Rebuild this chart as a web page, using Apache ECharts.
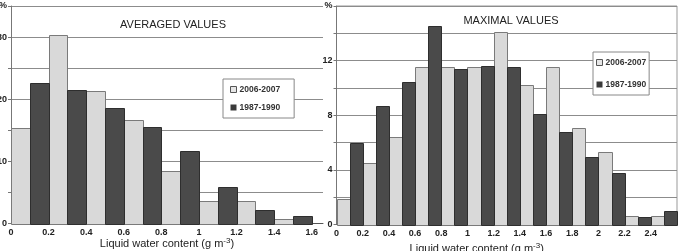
<!DOCTYPE html>
<html>
<head>
<meta charset="utf-8">
<script src="https://cdn.jsdelivr.net/npm/echarts@6/dist/echarts.min.js"></script>
<style>
  html, body { margin: 0; padding: 0; background: #fff; }
  #chart { width: 683px; height: 251px; }
</style>
</head>
<body>
<div id="chart"></div>
<script>
  // bin width of the histograms (g m-3)
  var binWidth = 0.1;

  // averaged values, 2006-2007 (lower edge of each bin, percent)
  var avgNewStart = [0, 0.2, 0.4, 0.6, 0.8, 1.0, 1.2, 1.4];
  var avgNewPct = [15.4, 30.3, 21.3, 16.7, 8.4, 3.7, 3.7, 0.7];
  // averaged values, 1987-1990
  var avgOldStart = [0.1, 0.3, 0.5, 0.7, 0.9, 1.1, 1.3, 1.5];
  var avgOldPct = [22.6, 21.5, 18.6, 15.6, 11.6, 5.8, 2.2, 1.2];

  // maximal values, 2006-2007
  var maxNewStart = [0, 0.2, 0.4, 0.6, 0.8, 1.0, 1.2, 1.4, 1.6, 1.8, 2.0, 2.2, 2.4];
  var maxNewPct = [1.9, 4.5, 6.4, 11.55, 11.55, 11.55, 14.1, 10.25, 11.5, 7.05, 5.3, 0.65, 0.65];
  // maximal values, 1987-1990
  var maxOldStart = [0.1, 0.3, 0.5, 0.7, 0.9, 1.1, 1.3, 1.5, 1.7, 1.9, 2.1, 2.3, 2.5];
  var maxOldPct = [6.0, 8.7, 10.4, 14.5, 11.4, 11.6, 11.5, 8.1, 6.8, 4.95, 3.8, 0.55, 1.0];

  var seriesNames = ['2006-2007', '1987-1990'];
  var xTicks = [0, 0.2, 0.4, 0.6, 0.8, 1, 1.2, 1.4, 1.6, 1.8, 2, 2.2, 2.4];

  var lightStyle = { color: '#d9d9d9', borderColor: '#7a7a7a', borderWidth: 1 };
  var darkStyle = { color: '#4a4a4a', borderColor: '#2e2e2e', borderWidth: 1 };

  function zip(starts, values) {
    return starts.map(function (s, i) { return [s, values[i]]; });
  }

  // one rectangle per bin, from the lower edge to lower edge + binWidth
  function binRenderer(st) {
    return function (params, api) {
      var start = api.value(0);
      var top = api.coord([start, api.value(1)]);
      var base = api.coord([start + binWidth, 0]);
      var x0 = Math.round(top[0]) + 0.5, x1 = Math.round(base[0]) + 0.5;
      var y0 = Math.round(top[1]) + 0.5, y1 = Math.round(base[1]) + 0.5;
      return {
        type: 'rect',
        shape: { x: x0, y: y0, width: x1 - x0, height: y1 - y0 },
        style: { fill: st.color, stroke: st.borderColor, lineWidth: 1 }
      };
    };
  }

  function histSeries(name, idx, starts, values, st) {
    return {
      type: 'custom',
      name: name,
      xAxisIndex: idx,
      yAxisIndex: idx,
      renderItem: binRenderer(st),
      itemStyle: st,
      encode: { x: 0, y: 1 },
      data: zip(starts, values)
    };
  }

  var tickFont = { fontFamily: 'Liberation Sans', fontSize: 9, fontWeight: 'bold', color: '#222' };
  var nameRich = {
    a: { fontFamily: 'Liberation Sans', fontSize: 11, color: '#222' },
    sup: { fontFamily: 'Liberation Sans', fontSize: 8, color: '#222', padding: [0, 0, 7, 0] }
  };
  var axisName = '{a|Liquid water content (g m}{sup|-3}{a|)}';

  function xAxisOf(idx, max, nameGap, namePad) {
    return {
      type: 'value',
      gridIndex: idx,
      min: 0,
      max: max,
      interval: 0.2,
      axisLine: { lineStyle: { color: '#555', width: 1 } },
      axisTick: { show: false },
      splitLine: { show: false },
      axisLabel: Object.assign({
        margin: 5,
        showMaxLabel: false,
        formatter: function (v) {
          for (var i = 0; i < xTicks.length; i++) {
            if (Math.abs(v - xTicks[i]) < 1e-6) return String(xTicks[i]);
          }
          return '';
        }
      }, tickFont),
      name: axisName,
      nameLocation: 'middle',
      nameGap: nameGap,
      nameMoveOverlap: false,
      nameTextStyle: { rich: nameRich, padding: namePad }
    };
  }

  function yAxisOf(idx, max, interval, labelStep) {
    return {
      type: 'value',
      gridIndex: idx,
      min: 0,
      max: max,
      interval: interval,
      axisLine: { show: true, lineStyle: { color: '#777' } },
      axisTick: { show: true, length: 3, lineStyle: { color: '#777' } },
      splitLine: { lineStyle: { color: '#8c8c8c', width: 1 } },
      axisLabel: Object.assign({
        margin: 4,
        formatter: function (v) {
          if (v === max) return '%';
          return v % labelStep === 0 ? String(v) : '';
        }
      }, tickFont)
    };
  }

  function legendAt(left, top, padding, gap) {
    return {
      orient: 'vertical',
      left: left,
      top: top,
      padding: padding,
      itemGap: gap,
      itemWidth: 6,
      itemHeight: 6,
      backgroundColor: '#fff',
      borderColor: '#888',
      borderWidth: 1,
      borderRadius: 0,
      selectedMode: false,
      textStyle: { fontFamily: 'Liberation Sans', fontSize: 8.5, fontWeight: 'bold', color: '#333', padding: [0, 0, 0, -2] },
      data: [
        { name: seriesNames[0], icon: 'rect', itemStyle: { color: '#e6e6e6', borderColor: '#555', borderWidth: 1 } },
        { name: seriesNames[1], icon: 'rect', itemStyle: { color: '#3a3a3a', borderColor: '#3a3a3a', borderWidth: 0 } }
      ]
    };
  }

  var chart = echarts.init(document.getElementById('chart'), null, { renderer: 'canvas' });

  var option = {
    backgroundColor: '#ffffff',
    animation: false,
    title: [{
      text: 'AVERAGED VALUES',
      left: 168,
      top: 14,
      textAlign: 'center',
      textStyle: { fontFamily: 'Liberation Sans', fontSize: 11, fontWeight: 'normal', color: '#222' }
    }, {
      text: 'MAXIMAL VALUES',
      left: 506,
      top: 10,
      textAlign: 'center',
      textStyle: { fontFamily: 'Liberation Sans', fontSize: 11, fontWeight: 'normal', color: '#222' }
    }],
    legend: [
      legendAt(223, 79, [6, 14, 6, 7], 9),
      legendAt(593, 52, [6, 3, 6, 3], 13)
    ],
    grid: [
      { left: 11, top: 6, width: 312, height: 217.5, outerBoundsMode: 'none' },
      { left: 336.5, top: 6, width: 340.5, height: 218.5, outerBoundsMode: 'none', show: true, borderColor: '#999', borderWidth: 1 }
    ],
    xAxis: [
      xAxisOf(0, 1.66, 13, [0, 0, 0, 0]),
      xAxisOf(1, 2.6, 17, [0, 60, 0, 0])
    ],
    yAxis: [
      yAxisOf(0, 35, 5, 10),
      yAxisOf(1, 16, 2, 4)
    ],
    series: [
      histSeries(seriesNames[0], 0, avgNewStart, avgNewPct, lightStyle),
      histSeries(seriesNames[1], 0, avgOldStart, avgOldPct, darkStyle),
      histSeries(seriesNames[0], 1, maxNewStart, maxNewPct, lightStyle),
      histSeries(seriesNames[1], 1, maxOldStart, maxOldPct, darkStyle)
    ]
  };

  chart.setOption(option);
</script>
</body>
</html>
